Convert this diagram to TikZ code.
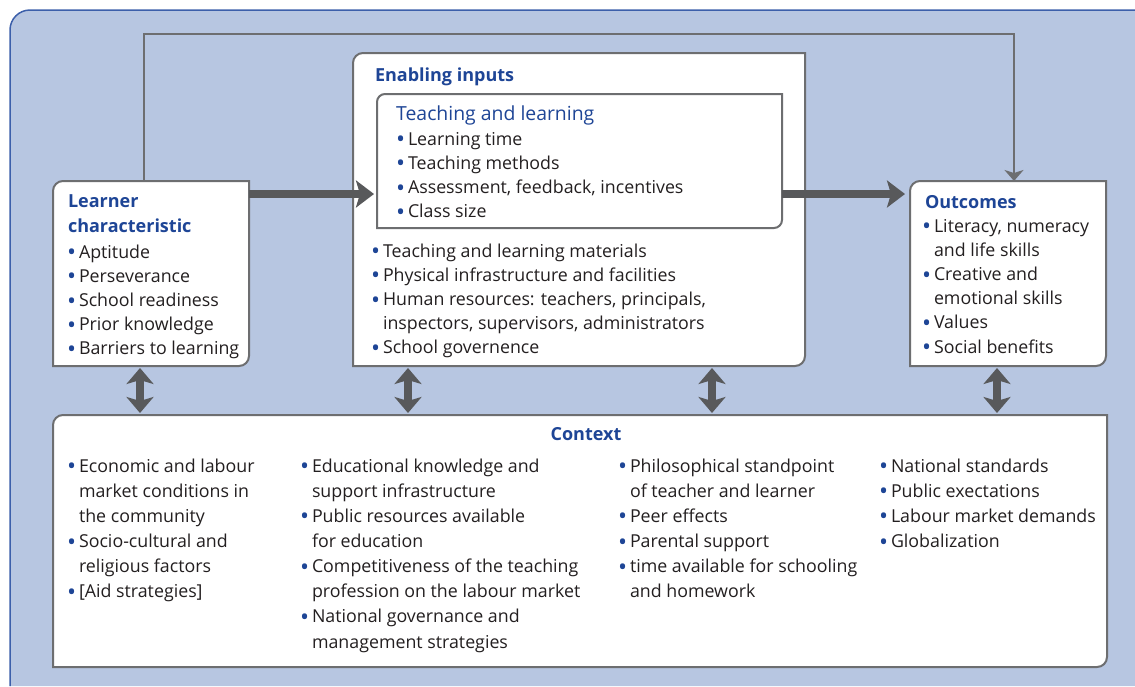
\documentclass[tikz,border=0pt]{standalone}
\usepackage{fontspec}
\setmainfont{Open Sans}
\usepackage{graphicx}
\usetikzlibrary{arrows.meta,calc}
\definecolor{bgblue}{HTML}{B7C6E1}
\definecolor{bgline}{HTML}{3C5FAA}
\definecolor{boxgray}{HTML}{6D6E70}
\definecolor{arrgray}{HTML}{58595B}
\definecolor{hblue}{HTML}{1E4596}
\definecolor{txtc}{HTML}{231F20}
\newcommand{\bl}{\makebox[12pt][l]{\textcolor{hblue}{\raisebox{-0.15em}{\scalebox{1.35}{•}}}}}
\newcommand{\ct}{\hspace*{12pt}}
\newcommand{\st}{\rule{0pt}{15pt}}
\newcommand{\bodyf}{\fontsize{17.8}{24.2}\selectfont}
\newcommand{\ctxf}{\fontsize{17.8}{25.15}\selectfont}
\newcommand{\headf}{\fontsize{18}{25}\selectfont\bfseries}
% #1 radius, #2 name, #3 left, #4 top, #5 right, #6 bottom (pixel coordinates)
\newcommand{\leafbox}[6][10]{%
  \path[boxline] (#3,#6) -- (#3,#4+#1) arc[start angle=180,end angle=270,radius=#1]
     -- (#5,#4) -- (#5,#6-#1) arc[start angle=0,end angle=90,radius=#1] -- cycle;
  \node[boxnode, minimum width=#5-#3, minimum height=#6-#4, anchor=north west] (#2) at (#3,#4) {};}
\begin{document}
\begin{tikzpicture}[x=1pt,y=-1pt,
  boxline/.style={fill=white, draw=boxgray, line width=2pt},
  boxnode/.style={inner sep=0pt, outer sep=0pt, draw=none},
  txt/.style={anchor=north west, inner sep=0pt, outer sep=0pt, align=left, text=txtc, font=\bodyf},
  ctxt/.style={txt, font=\ctxf},
  head/.style={anchor=north west, inner sep=0pt, outer sep=0pt, align=left, text=hblue, font=\headf},
  bigarrow/.style={draw=arrgray, line width=7.5pt, -{Stealth[length=18pt,width=27pt,inset=4pt]}},
  dblarrow/.style={draw=arrgray, line width=7.5pt,
     {Stealth[length=16pt,width=27pt,inset=4pt]}-{Stealth[length=16pt,width=27pt,inset=4pt]}},
  fbarrow/.style={draw=boxgray, line width=2pt, -{Stealth[length=11pt,width=19pt,inset=3pt]}}
  ]
\useasboundingbox (0,0) rectangle (1135,686);
% background panel
\fill[bgblue] (10,686) -- (10,30) arc[start angle=180,end angle=270,radius=20] -- (1135,10) -- (1135,686) -- cycle;
\draw[bgline, line width=1.5pt] (10,686) -- (10,30) arc[start angle=180,end angle=270,radius=20] -- (1135,10);

% boxes
\leafbox{learner}{53}{181}{249}{366}
\leafbox{enabling}{353}{53}{805}{366}
\leafbox[8]{teach}{377}{94}{782}{228}
\leafbox{outcomes}{910}{181}{1106}{366}
\leafbox{context}{53}{415}{1107}{667}

% feedback line from learner to outcomes
\coordinate (fbL) at (144,34);
\coordinate (fbR) at (1014,34);
\draw[fbarrow] (learner.north -| fbL) -- (fbL) -- (fbR) -- (outcomes.north -| fbR);

% main thick arrows
\coordinate (ya) at (0,194);
\draw[bigarrow, shorten >=3pt] (learner.east |- ya) -- (teach.west |- ya);
\draw[bigarrow, shorten >=5pt] (teach.east |- ya) -- (outcomes.west |- ya);

% double arrows to context
\coordinate (v1) at (140,0);
\coordinate (v2) at (408,0);
\coordinate (v3) at (712,0);
\coordinate (v4) at (997,0);
\draw[dblarrow, shorten <=2pt, shorten >=2pt] (learner.south -| v1) -- (context.north -| v1);
\draw[dblarrow, shorten <=2pt, shorten >=2pt] (enabling.south -| v2) -- (context.north -| v2);
\draw[dblarrow, shorten <=2pt, shorten >=2pt] (enabling.south -| v3) -- (context.north -| v3);
\draw[dblarrow, shorten <=2pt, shorten >=2pt] (outcomes.south -| v4) -- (context.north -| v4);

% Learner text
\node[head] (lhead) at (68,192) {\st Learner\\characteristic};
\node[txt] (lbody) at (67,243) {\st\bl Aptitude\\\bl Perseverance\\\bl School readiness\\\bl Prior knowledge\\\bl Barriers to learning};

% Enabling inputs text
\node[head] (ehead) at (375,66) {\st Enabling inputs};
\node[anchor=north west, inner sep=0pt, text=hblue, font=\fontsize{19.4}{24}\selectfont] (thead) at (396,105) {\st Teaching and learning};
\node[txt] (tbody) at (396,130) {\st\bl Learning time\\\bl Teaching methods\\\bl Assessment, feedback, incentives\\\bl Class size};
\node[txt] (ebody) at (371,242) {\st\bl Teaching and learning materials\\\bl Physical infrastructure and facilities\\\bl Human resources: teachers, principals,\\\ct inspectors, supervisors, administrators\\\bl School governence};

% Outcomes text
\node[head] (ohead) at (925,193) {\st Outcomes};
\node[txt] (obody) at (922,217) {\st\bl Literacy, numeracy\\\ct and life skills\\\bl Creative and\\\ct emotional skills\\\bl Values\\\bl Social benefits};

% Context text
\node[head, anchor=north] (chead) at (586,425) {\st Context};
\node[ctxt] (c1) at (67,457) {\st\bl Economic and labour\\\ct market conditions in\\\ct the community\\\bl Socio-cultural and\\\ct religious factors\\\bl [Aid strategies]};
\node[ctxt] (c2) at (300,457) {\st\bl Educational knowledge and\\\ct support infrastructure\\\bl Public resources available\\\ct for education\\\bl Competitiveness of the teaching\\\ct profession on the labour market\\\bl National governance and\\\ct management strategies};
\node[ctxt] (c3) at (618,457) {\st\bl Philosophical standpoint\\\ct of teacher and learner\\\bl Peer effects\\\bl Parental support\\\bl time available for schooling\\\ct and homework};
\node[ctxt] (c4) at (879,457) {\st\bl National standards\\\bl Public exectations\\\bl Labour market demands\\\bl Globalization};
\end{tikzpicture}
\end{document}
